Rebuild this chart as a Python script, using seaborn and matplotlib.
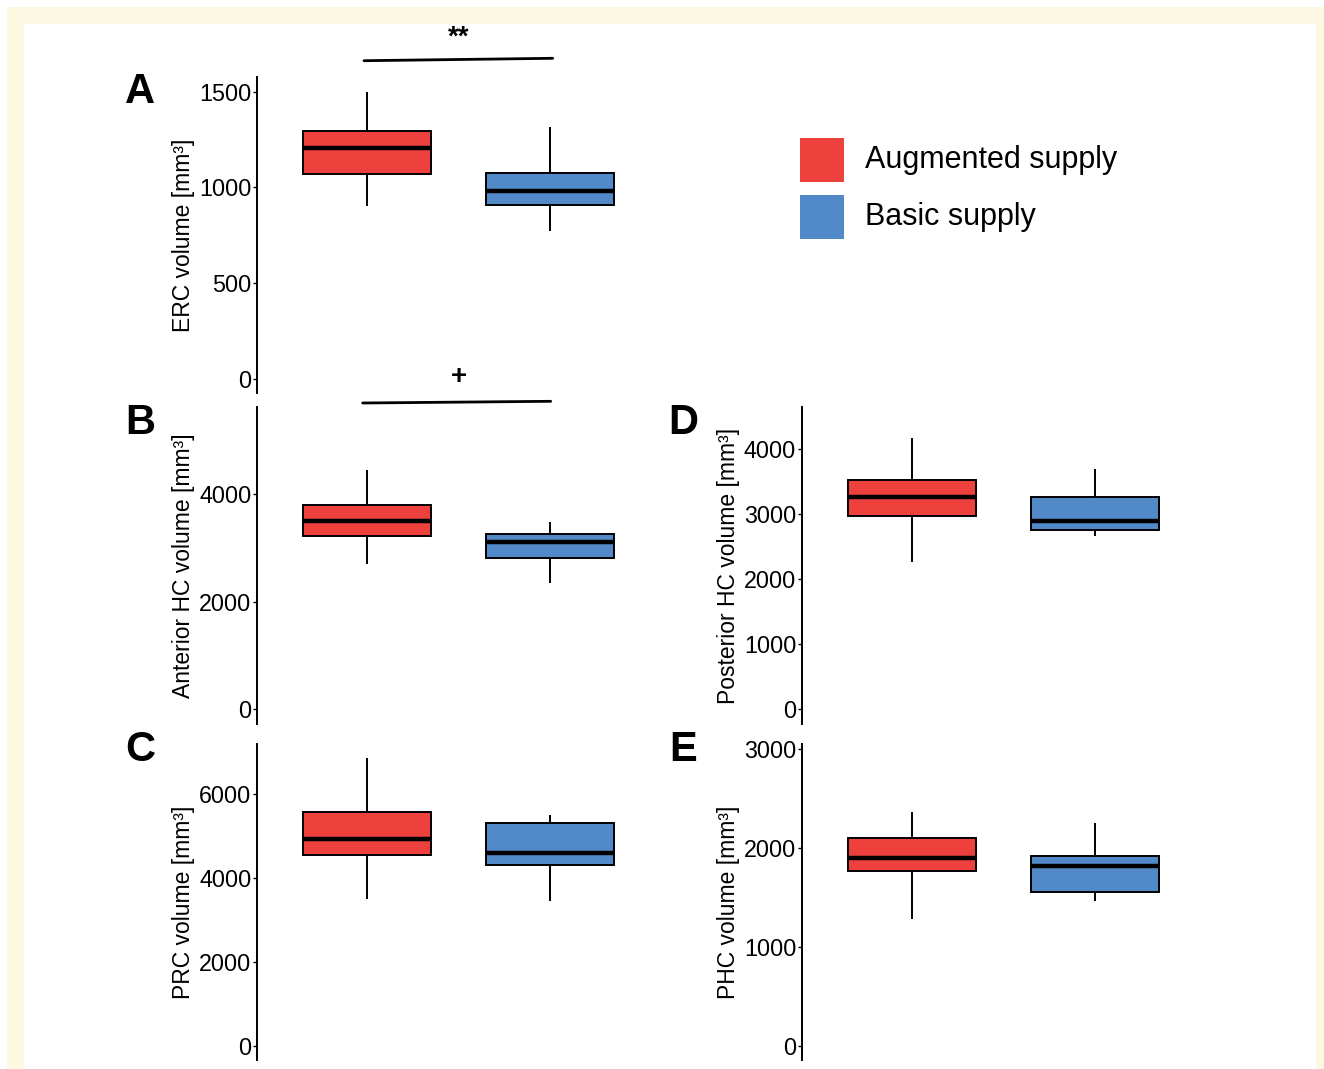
import numpy as np
import pandas as pd
import matplotlib
matplotlib.use("Agg")
import matplotlib.pyplot as plt
from matplotlib.patches import Rectangle
from matplotlib.lines import Line2D
import seaborn as sns

# ---------------- data: five-number summaries ----------------
# order: lower whisker, Q1, median, Q3, upper whisker
groups = ["Augmented supply", "Basic supply"]
colors = ["#EE403D", "#5289C9"]

erc_aug = [903, 1069, 1204, 1294, 1500]
erc_basic = [773, 910, 980, 1074, 1317]

ahc_aug = [2698, 3224, 3497, 3801, 4452]
ahc_basic = [2355, 2809, 3118, 3261, 3490]

prc_aug = [3493, 4540, 4921, 5579, 6850]
prc_basic = [3460, 4310, 4588, 5310, 5507]

phc_post_aug = [2266, 2974, 3266, 3523, 4169]
phc_post_basic = [2662, 2754, 2897, 3262, 3697]

phc_aug = [1283, 1768, 1899, 2101, 2361]
phc_basic = [1468, 1556, 1821, 1922, 2256]

ylabels = {
    "A": "ERC volume [mm³]",
    "B": "Anterior HC volume [mm³]",
    "C": "PRC volume [mm³]",
    "D": "Posterior HC volume [mm³]",
    "E": "PHC volume [mm³]",
}
yticks = {
    "A": [0, 500, 1000, 1500],
    "B": [0, 2000, 4000],
    "C": [0, 2000, 4000, 6000],
    "D": [0, 1000, 2000, 3000, 4000],
    "E": [0, 1000, 2000, 3000],
}
ylims = {
    "A": (-75, 1578),
    "B": (-268, 5619),
    "C": (-333, 7190),
    "D": (-221, 4646),
    "E": (-141, 3050),
}
panel_data = {
    "A": (erc_aug, erc_basic),
    "B": (ahc_aug, ahc_basic),
    "C": (prc_aug, prc_basic),
    "D": (phc_post_aug, phc_post_basic),
    "E": (phc_aug, phc_basic),
}

# ---------------- figure ----------------
W, H = 1324, 1069
DPI = 100
sns.set_theme(style="white")
plt.rcParams["font.family"] = ["Liberation Sans", "DejaVu Sans"]
plt.rcParams["text.color"] = "black"
plt.rcParams["axes.labelcolor"] = "black"
plt.rcParams["ytick.color"] = "black"
plt.rcParams["xtick.color"] = "black"

fig = plt.figure(figsize=(W / DPI, H / DPI), dpi=DPI)
fig.patch.set_facecolor("white")

# cream frame
cream = "#FDF8E1"
fig.add_artist(Rectangle((7 / W, 0), (1324 - 7) / W, (H - 7) / H,
                         transform=fig.transFigure, facecolor=cream, edgecolor="none", zorder=-10))
fig.add_artist(Rectangle((24 / W, 0), (1316 - 24) / W, (H - 24) / H,
                         transform=fig.transFigure, facecolor="white", edgecolor="none", zorder=-9))


def px_axes(x0, y0, x1, y1):
    """pixel box (top-left origin) -> axes"""
    return fig.add_axes([x0 / W, 1 - y1 / H, (x1 - x0) / W, (y1 - y0) / H])


boxes = {
    "A": (257, 76.7, 660, 393),
    "B": (257, 407.3, 660, 723.7),
    "C": (257, 744, 660, 1060),
    "D": (801.7, 407.3, 1205, 723.7),
    "E": (801.7, 744, 1205, 1060),
}

for key, (x0, y0, x1, y1) in boxes.items():
    ax = px_axes(x0, y0, x1, y1)
    ax.set_facecolor("none")
    aug, basic = panel_data[key]
    df = pd.DataFrame({
        "group": [groups[0]] * len(aug) + [groups[1]] * len(basic),
        "value": list(aug) + list(basic),
    })
    sns.boxplot(data=df, x="group", y="value", hue="group", order=groups,
                hue_order=groups, palette=colors, width=0.7, whis=(0, 100),
                linecolor="black", linewidth=1.4, saturation=1, legend=False,
                medianprops=dict(linewidth=3.2, color="black"),
                capprops=dict(linewidth=0), ax=ax)
    ax.set_xlim(-0.6, 1.6)
    ax.set_ylim(*ylims[key])
    ax.set_yticks(yticks[key])
    ax.set_yticklabels([str(t) for t in yticks[key]])
    ax.set_xticks([])
    ax.set_xlabel("")
    ax.set_ylabel(ylabels[key], fontsize=16.5, labelpad=3, color="black")
    for s in ["top", "right", "bottom"]:
        ax.spines[s].set_visible(False)
    ax.spines["left"].set_color("black")
    ax.spines["left"].set_linewidth(1.4)
    ax.tick_params(axis="y", which="major", direction="out", length=3,
                   width=1, color="black", labelcolor="black", labelsize=16.8,
                   pad=1, left=True)
    ax.grid(False)

# panel letters
letters = {"A": (140, 92), "B": (140, 423), "C": (140, 750), "D": (683, 423), "E": (683, 750)}
for k, (lx, ly) in letters.items():
    fig.text(lx / W, 1 - ly / H, k, fontsize=30, fontweight="bold",
             ha="center", va="center", color="black")

# significance brackets
fig.add_artist(Line2D([364 / W, 552.7 / W], [1 - 60.7 / H, 1 - 58.3 / H],
                      transform=fig.transFigure, color="black", linewidth=2))
fig.text(459 / W, 1 - 38 / H, "**", fontsize=20, fontweight="bold", ha="center",
         va="center", color="black")
fig.add_artist(Line2D([362.7 / W, 550.7 / W], [1 - 403 / H, 1 - 401.3 / H],
                      transform=fig.transFigure, color="black", linewidth=2))
fig.text(459 / W, 1 - 377 / H, "+", fontsize=20, fontweight="bold", ha="center",
         va="center", color="black")

# legend
leg_items = [(groups[0], colors[0], 138), (groups[1], colors[1], 195)]
for label, col, top in leg_items:
    fig.add_artist(Rectangle((800 / W, 1 - (top + 44) / H), 44 / W, 44 / H,
                             transform=fig.transFigure, facecolor=col, edgecolor="none"))
    fig.text(865 / W, 1 - (top + 22) / H, label, fontsize=22, ha="left",
             va="center", color="black")

fig.savefig("out.png", dpi=DPI)
